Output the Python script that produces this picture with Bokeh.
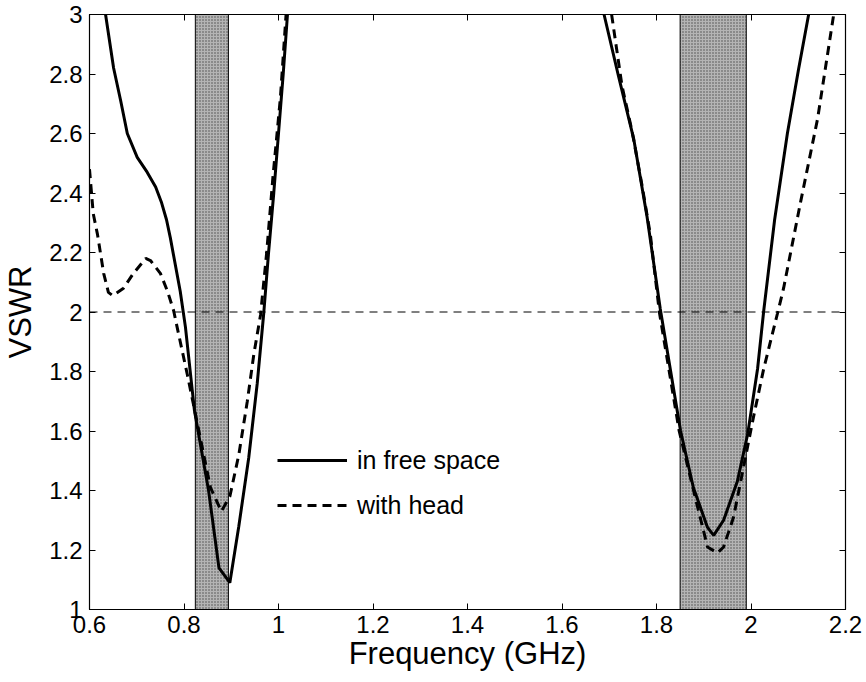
from bokeh.plotting import figure
from bokeh.models import (Range1d, FixedTicker, LinearAxis, Span, Legend, LegendItem,
                          CustomJSTickFormatter)
from bokeh.embed import file_html
from bokeh.resources import INLINE

# Frequency bands of interest (GHz)
band_lo = [0.824, 1.85]
band_hi = [0.894, 1.99]

# VSWR in free space, lower and upper resonances
fs_low_f = [0.634, 0.651, 0.666, 0.680, 0.701, 0.722, 0.740, 0.752, 0.763, 0.771,
            0.778, 0.792, 0.803, 0.822, 0.852, 0.874, 0.897, 0.916, 0.937, 0.955,
            0.969, 0.979, 0.990, 1.000, 1.010, 1.019]
fs_low_v = [3.00, 2.82, 2.71, 2.60, 2.52, 2.47, 2.42, 2.37, 2.31, 2.25,
            2.19, 2.07, 1.95, 1.67, 1.40, 1.14, 1.09, 1.28, 1.51, 1.76,
            2.00, 2.20, 2.40, 2.60, 2.80, 3.00]
fs_high_f = [1.689, 1.720, 1.752, 1.780, 1.808, 1.851, 1.878, 1.908, 1.921, 1.942,
             1.971, 1.993, 2.014, 2.027, 2.050, 2.077, 2.100, 2.122]
fs_high_v = [3.00, 2.79, 2.58, 2.32, 2.01, 1.60, 1.41, 1.276, 1.249, 1.30,
             1.43, 1.59, 1.81, 2.005, 2.31, 2.60, 2.81, 3.00]

# VSWR with head, lower and upper resonances
wh_low_f = [0.600, 0.608, 0.617, 0.630, 0.640, 0.649, 0.672, 0.693, 0.719, 0.729,
            0.750, 0.765, 0.778, 0.788, 0.807, 0.856, 0.879, 0.897, 0.916, 0.934,
            0.948, 0.962, 0.975, 0.988, 1.004, 1.016]
wh_low_v = [2.48, 2.33, 2.26, 2.13, 2.066, 2.055, 2.08, 2.13, 2.18, 2.173,
            2.13, 2.07, 2.005, 1.93, 1.79, 1.41, 1.33, 1.38, 1.52, 1.70,
            1.86, 1.99, 2.20, 2.45, 2.72, 3.00]
wh_high_f = [1.705, 1.727, 1.748, 1.770, 1.787, 1.806, 1.848, 1.883, 1.908, 1.929,
             1.942, 1.963, 1.984, 2.005, 2.027, 2.056, 2.069, 2.105, 2.141, 2.175]
wh_high_v = [3.00, 2.76, 2.61, 2.42, 2.26, 2.00, 1.60, 1.37, 1.21, 1.19,
             1.21, 1.31, 1.477, 1.645, 1.81, 1.995, 2.08, 2.37, 2.65, 3.00]

x_ticks = [0.6, 0.8, 1.0, 1.2, 1.4, 1.6, 1.8, 2.0, 2.2]
y_ticks = [1.0, 1.2, 1.4, 1.6, 1.8, 2.0, 2.2, 2.4, 2.6, 2.8, 3.0]
vswr_limit = 2.0

FONT = "Liberation Sans"

p = figure(width=866, height=682, output_backend="svg", toolbar_location=None,
           x_range=Range1d(0.6, 2.2), y_range=Range1d(1.0, 3.0),
           min_border_left=89, min_border_right=21, min_border_top=14,
           min_border_bottom=73, x_axis_label="Frequency (GHz)", y_axis_label="VSWR")
p.background_fill_color = "white"
p.border_fill_color = "white"
p.outline_line_color = "black"
p.outline_line_width = 1.2
p.xgrid.visible = False
p.ygrid.visible = False

fmt = CustomJSTickFormatter(code="return String(Math.round(tick*10)/10);")
p.xaxis.ticker = FixedTicker(ticks=x_ticks)
p.yaxis.ticker = FixedTicker(ticks=y_ticks)
p.xaxis.formatter = fmt
p.yaxis.formatter = fmt
for ax in (p.xaxis[0], p.yaxis[0]):
    ax.major_tick_in = 6
    ax.major_tick_out = 0
    ax.minor_tick_in = 0
    ax.minor_tick_out = 0
    ax.axis_line_color = "black"
    ax.major_tick_line_color = "black"
    ax.major_label_text_font = FONT
    ax.major_label_text_font_size = "24px"
    ax.major_label_text_color = "black"
    ax.axis_label_text_font = FONT
    ax.axis_label_text_font_size = "31px"
    ax.axis_label_text_font_style = "normal"
    ax.axis_label_text_color = "black"
p.xaxis.major_label_standoff = 6
p.xaxis.axis_label_standoff = 0
p.yaxis.major_label_standoff = 7
p.yaxis.axis_label_standoff = 8

# tick marks on the top and right edges of the box
blank = CustomJSTickFormatter(code="return '';")
for side, ticks in (("above", x_ticks), ("right", y_ticks)):
    ax = LinearAxis(ticker=FixedTicker(ticks=ticks), formatter=blank,
                    major_tick_in=6, major_tick_out=0,
                    minor_tick_in=0, minor_tick_out=0, major_label_standoff=0,
                    axis_line_color="black", major_tick_line_color="black")
    p.add_layout(ax, side)

# shaded frequency bands
p.quad(left=band_lo, right=band_hi, bottom=1.0, top=3.0,
       fill_color="#b4b4b4", hatch_pattern="dot", hatch_color="#4a4a4a",
       hatch_scale=3, hatch_weight=1, line_color="black", line_width=1)

# VSWR = 2 reference
p.add_layout(Span(location=vswr_limit, dimension="width", line_color="black",
                  line_width=1, line_dash="8 6"))

r_fs = p.line(fs_low_f, fs_low_v, line_color="black", line_width=3)
p.line(fs_high_f, fs_high_v, line_color="black", line_width=3)
r_wh = p.line(wh_low_f, wh_low_v, line_color="black", line_width=3, line_dash="9 6")
p.line(wh_high_f, wh_high_v, line_color="black", line_width=3, line_dash="9 6")

legend = Legend(items=[LegendItem(label="in free space", renderers=[r_fs]),
                       LegendItem(label="with head", renderers=[r_wh])],
                location=(188, 89), orientation="vertical",
                glyph_width=70, glyph_height=30, label_height=30, label_standoff=10,
                spacing=15, padding=0, margin=0,
                label_text_font=FONT, label_text_font_size="25px",
                label_text_color="black",
                border_line_alpha=0, background_fill_alpha=0)
p.add_layout(legend, "center")

open("out.html", "w").write(file_html(p, INLINE))
